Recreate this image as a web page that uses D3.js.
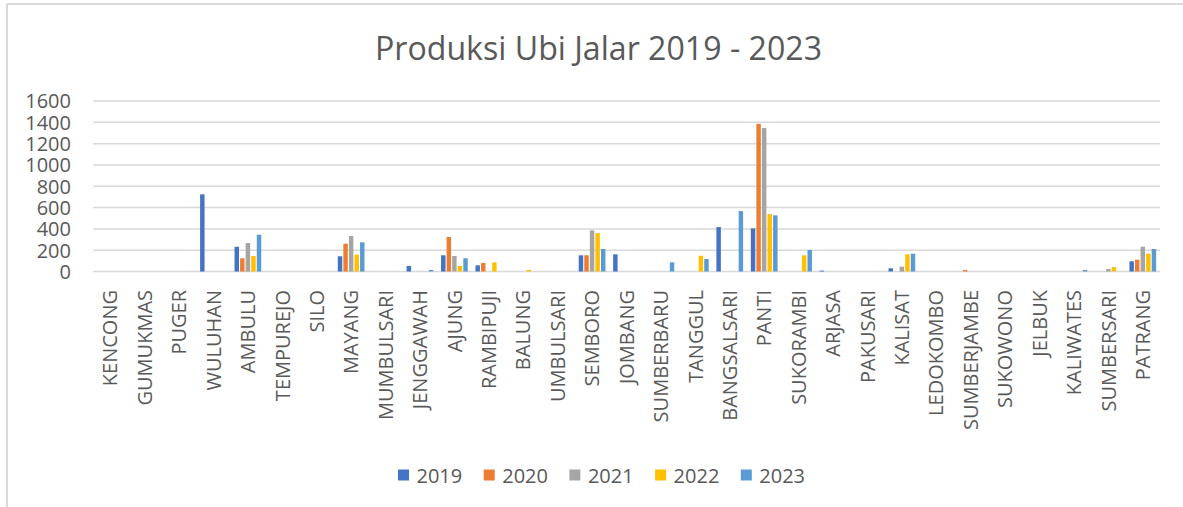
<!DOCTYPE html>
<html>
<head>
<meta charset="utf-8">
<script src="https://cdn.jsdelivr.net/npm/d3@7"></script>
<style>
  body { margin: 0; background: #fff; }
  svg { display: block; font-family: "Open Sans", "Noto Sans", sans-serif; }
</style>
</head>
<body>
<svg id="chart" width="1183" height="507"></svg>
<script>
const categories = ["KENCONG","GUMUKMAS","PUGER","WULUHAN","AMBULU","TEMPUREJO","SILO","MAYANG","MUMBULSARI","JENGGAWAH","AJUNG","RAMBIPUJI","BALUNG","UMBULSARI","SEMBORO","JOMBANG","SUMBERBARU","TANGGUL","BANGSALSARI","PANTI","SUKORAMBI","ARJASA","PAKUSARI","KALISAT","LEDOKOMBO","SUMBERJAMBE","SUKOWONO","JELBUK","KALIWATES","SUMBERSARI","PATRANG"];
const years = ["2019","2020","2021","2022","2023"];
//                 KEN GUM PUG WUL AMB TEM SIL MAY MUM JEN AJU RAM BAL UMB SEM JOM SBB TAN BGS PAN SKR ARJ PAK KAL LED SBJ SKW JEL KLW SBS PAT
const v2019 = [0,0,0,724,232,0,0,143,0,52,152,58,0,0,152,161,0,0,417,405,0,8,0,30,0,0,0,0,0,0,96];
const v2020 = [0,0,0,0,124,0,0,261,0,0,324,80,0,0,152,0,0,0,0,1386,0,0,0,0,0,14,0,0,0,0,111];
const v2021 = [0,0,0,0,267,0,0,333,0,0,145,0,0,0,386,0,0,0,0,1346,0,0,0,45,0,0,0,0,0,23,233];
const v2022 = [0,0,0,0,145,0,0,158,0,0,52,86,14,0,361,0,0,148,0,539,152,0,0,161,0,0,0,0,0,42,167];
const v2023 = [0,0,0,0,345,0,0,274,0,14,124,0,0,0,211,0,86,117,567,527,202,0,0,167,0,0,0,0,14,0,211];
const seriesValues = [v2019, v2020, v2021, v2022, v2023];
const colors = ["#4472C4","#ED7D31","#A5A5A5","#FFC000","#5B9BD5"];
const yTicks = [0,200,400,600,800,1000,1200,1400,1600];
const title = "Produksi Ubi Jalar 2019 - 2023";

const svg = d3.select("#chart");
const textColor = "#595959";
const gridColor = "#D9D9D9";

// outer frame (top & left edges visible)
svg.append("line").attr("x1",7).attr("x2",1183).attr("y1",4).attr("y2",4)
  .attr("stroke",gridColor).attr("stroke-width",2);
svg.append("line").attr("x1",7).attr("x2",7).attr("y1",4).attr("y2",507)
  .attr("stroke",gridColor).attr("stroke-width",2);

const plotLeft = 93, plotRight = 1160, plotTop = 101, plotBottom = 271.5;

const x0 = d3.scaleBand().domain(categories).range([plotLeft, plotRight]).paddingInner(0.224).paddingOuter(0.112);
const x1 = d3.scaleBand().domain(years).range([0, x0.bandwidth()]).paddingInner(0.2);
const y = d3.scaleLinear().domain([0,1600]).range([plotBottom, plotTop]);

// gridlines
svg.append("g").selectAll("line").data(yTicks).join("line")
  .attr("x1",plotLeft).attr("x2",plotRight)
  .attr("y1",d=>y(d)).attr("y2",d=>y(d))
  .attr("stroke",gridColor).attr("stroke-width",1.5);

// y tick labels
const yAxis = svg.append("g").attr("transform",`translate(${plotLeft},0)`)
  .call(d3.axisLeft(y).tickValues(yTicks).tickFormat(d3.format("d")).tickSize(0).tickPadding(22));
yAxis.select(".domain").remove();
yAxis.selectAll("text").attr("fill",textColor).style("font-size","20px")
  .style("font-family","'Open Sans', sans-serif").attr("dy","0.34em");

// bars
const groups = svg.append("g").selectAll("g").data(categories).join("g")
  .attr("transform",d=>`translate(${x0(d)},0)`);
groups.selectAll("rect")
  .data((c,i)=>years.map((yr,j)=>({yr, j, v: seriesValues[j][i]})))
  .join("rect")
  .attr("x",d=>x1(d.yr))
  .attr("width",x1.bandwidth())
  .attr("y",d=>y(d.v))
  .attr("height",d=>y(0)-y(d.v))
  .attr("fill",d=>colors[d.j]);

// category labels
const xAxis = svg.append("g").attr("transform",`translate(0,288)`)
  .call(d3.axisBottom(x0).tickSize(0));
xAxis.select(".domain").remove();
xAxis.selectAll("text")
  .attr("y",0).attr("x",-2).attr("dy","0.36em")
  .attr("transform","rotate(-90)")
  .style("text-anchor","end")
  .style("font-size","20px")
  .style("font-family","'Open Sans', sans-serif")
  .attr("fill",textColor);

// title
svg.append("text").attr("x",375).attr("y",60)
  .attr("textLength",447).attr("lengthAdjust","spacingAndGlyphs")
  .style("font-size","32px").attr("fill",textColor).text(title);

// legend
const legend = svg.append("g").selectAll("g").data(years).join("g")
  .attr("transform",(d,i)=>`translate(${398 + i*85.7},469.5)`);
legend.append("rect").attr("width",11).attr("height",11).attr("fill",(d,i)=>colors[i]);
legend.append("text").attr("x",18.5).attr("y",13.5)
  .style("font-size","20px").attr("fill",textColor).text(d=>d);
</script>
</body>
</html>
